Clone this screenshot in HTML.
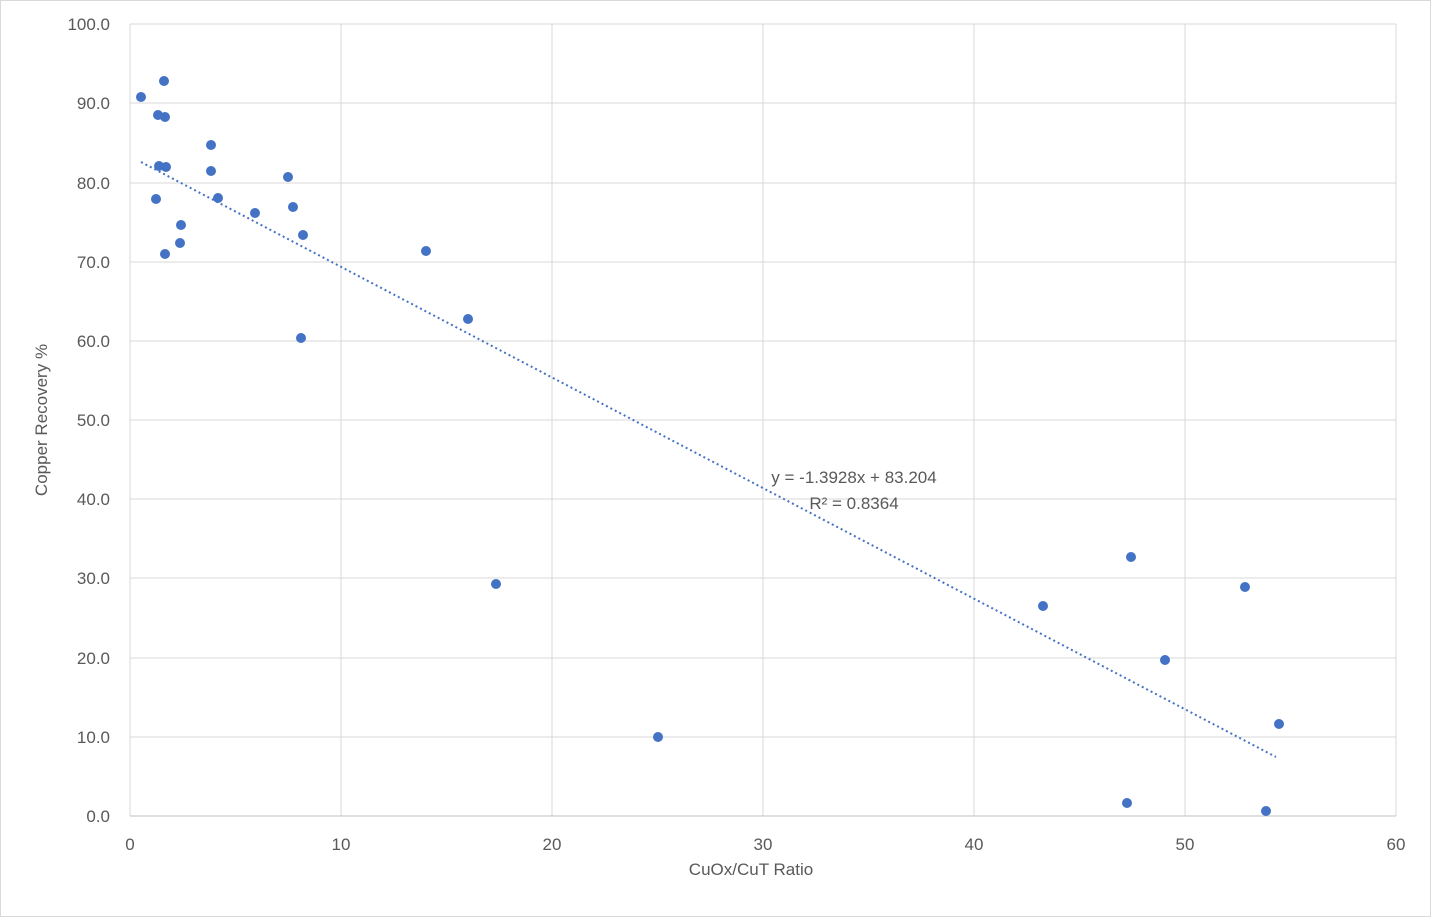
<!DOCTYPE html>
<html><head><meta charset="utf-8"><style>
html,body{margin:0;padding:0;background:#fff;}
svg{display:block;font-family:"Liberation Sans",Calibri,sans-serif;}
</style></head><body>
<svg width="1431" height="917" viewBox="0 0 1431 917" xmlns="http://www.w3.org/2000/svg">
<rect x="0.5" y="0.5" width="1430" height="916" fill="#fff" stroke="#d9d9d9"/>
<g stroke="#d9d9d9" stroke-width="1">
<line x1="130" y1="24" x2="1396" y2="24"/>
<line x1="130" y1="103" x2="1396" y2="103"/>
<line x1="130" y1="183" x2="1396" y2="183"/>
<line x1="130" y1="262" x2="1396" y2="262"/>
<line x1="130" y1="341" x2="1396" y2="341"/>
<line x1="130" y1="420" x2="1396" y2="420"/>
<line x1="130" y1="499" x2="1396" y2="499"/>
<line x1="130" y1="578" x2="1396" y2="578"/>
<line x1="130" y1="658" x2="1396" y2="658"/>
<line x1="130" y1="737" x2="1396" y2="737"/>
<line x1="341" y1="24" x2="341" y2="816"/>
<line x1="552" y1="24" x2="552" y2="816"/>
<line x1="763" y1="24" x2="763" y2="816"/>
<line x1="974" y1="24" x2="974" y2="816"/>
<line x1="1185" y1="24" x2="1185" y2="816"/>
<line x1="1396" y1="24" x2="1396" y2="816"/>
<line x1="130" y1="24" x2="130" y2="816"/>
</g>
<line x1="130" y1="816" x2="1396" y2="816" stroke="#bfbfbf"/>
<g font-size="17" fill="#595959" text-anchor="end">
<text x="110" y="30">100.0</text>
<text x="110" y="109">90.0</text>
<text x="110" y="189">80.0</text>
<text x="110" y="268">70.0</text>
<text x="110" y="347">60.0</text>
<text x="110" y="426">50.0</text>
<text x="110" y="505">40.0</text>
<text x="110" y="584">30.0</text>
<text x="110" y="664">20.0</text>
<text x="110" y="743">10.0</text>
<text x="110" y="822">0.0</text>
</g>
<g font-size="17" fill="#595959" text-anchor="middle">
<text x="130" y="850">0</text>
<text x="341" y="850">10</text>
<text x="552" y="850">20</text>
<text x="763" y="850">30</text>
<text x="974" y="850">40</text>
<text x="1185" y="850">50</text>
<text x="1396" y="850">60</text>
<text x="751" y="875">CuOx/CuT Ratio</text>
<text transform="translate(47,420) rotate(-90)">Copper Recovery %</text>
</g>
<line x1="141" y1="162" x2="1276" y2="757" stroke="#4472c4" stroke-width="2" stroke-dasharray="2,3"/>
<g fill="#4472c4">
<circle cx="141" cy="97" r="5"/><circle cx="164" cy="81" r="5"/><circle cx="158" cy="115" r="5"/>
<circle cx="165" cy="117" r="5"/><circle cx="211" cy="145" r="5"/><circle cx="159" cy="166" r="5"/>
<circle cx="166" cy="167" r="5"/><circle cx="211" cy="171" r="5"/><circle cx="288" cy="177" r="5"/>
<circle cx="156" cy="199" r="5"/><circle cx="218" cy="198" r="5"/><circle cx="293" cy="207" r="5"/>
<circle cx="255" cy="213" r="5"/><circle cx="181" cy="225" r="5"/><circle cx="180" cy="243" r="5"/>
<circle cx="165" cy="254" r="5"/><circle cx="303" cy="235" r="5"/><circle cx="426" cy="251" r="5"/>
<circle cx="468" cy="319" r="5"/><circle cx="301" cy="338" r="5"/><circle cx="496" cy="584" r="5"/>
<circle cx="658" cy="737" r="5"/><circle cx="1043" cy="606" r="5"/><circle cx="1131" cy="557" r="5"/>
<circle cx="1245" cy="587" r="5"/><circle cx="1165" cy="660" r="5"/><circle cx="1279" cy="724" r="5"/>
<circle cx="1127" cy="803" r="5"/><circle cx="1266" cy="811" r="5"/>
</g>
<g font-size="17" fill="#595959" text-anchor="middle">
<text x="854" y="483">y = -1.3928x + 83.204</text>
<text x="854" y="509">R² = 0.8364</text>
</g>
</svg>
</body></html>
